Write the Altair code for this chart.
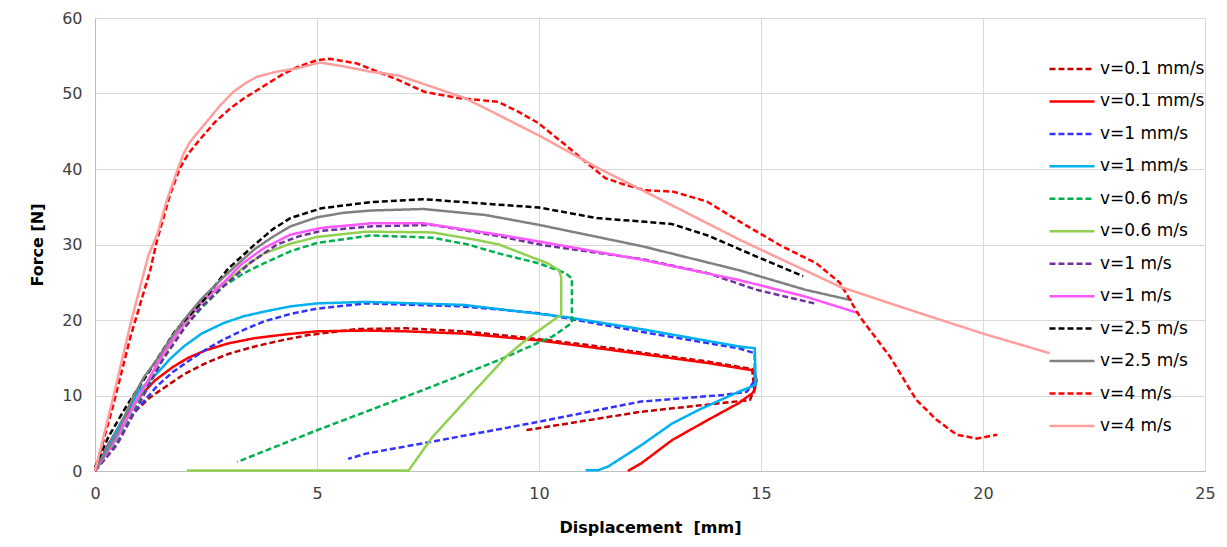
import altair as alt
import pandas as pd

# ---- data ----
labels = ["v=0.1 mm/s", "v=0.1 mm/s ", "v=1 mm/s", "v=1 mm/s ",
          "v=0.6 m/s", "v=0.6 m/s ", "v=1 m/s", "v=1 m/s ",
          "v=2.5 m/s", "v=2.5 m/s ", "v=4 m/s", "v=4 m/s "]
colors = ["#C00000", "#FF0000", "#3333FF", "#00B0F0",
          "#00B050", "#92D050", "#7030A0", "#FF55FF",
          "#000000", "#808080", "#FF0000", "#FF9E9E"]
dashes = [[6, 3], [1, 0], [6, 3], [1, 0], [6, 3], [1, 0],
          [6, 3], [1, 0], [6, 3], [1, 0], [6, 3], [1, 0]]

s1_x = [0, 0.34, 0.64, 0.94, 1.25, 1.6, 2.0, 2.5, 3.0, 3.6, 4.2, 4.8, 5.9, 7.0, 8.3, 9.8, 11.1, 12.4, 13.8, 14.8, 14.85, 14.75, 12.3, 9.7]
s1_y = [0, 3.7, 6.1, 8.1, 9.8, 11.2, 12.8, 14.3, 15.5, 16.5, 17.3, 18.0, 18.8, 18.9, 18.5, 17.6, 16.7, 15.6, 14.5, 13.5, 10.8, 9.4, 7.85, 5.4]

s2_x = [0, 0.3, 0.6, 1.0, 1.35, 1.76, 2.1, 2.5, 3.0, 3.6, 4.3, 5.0, 6.1, 7.0, 8.3, 10.0, 12.3, 13.8, 14.85, 14.9, 14.85, 14.5, 13.8, 13.0, 12.3, 12.0]
s2_y = [0, 3.5, 6.5, 9.8, 12.0, 13.8, 15.0, 16.0, 16.9, 17.6, 18.1, 18.5, 18.6, 18.5, 18.2, 17.3, 15.5, 14.3, 13.3, 12.0, 10.5, 9.0, 6.75, 4.1, 1.0, 0]

s3_x = [0, 0.41, 0.86, 1.39, 1.75, 2.14, 2.5, 2.89, 3.35, 3.8, 4.4, 5.0, 6.1, 8.3, 10.0, 12.3, 14.5, 14.86, 14.86, 14.68, 14.15, 12.3, 9.8, 7.6, 6.1, 5.7]
s3_y = [0, 3.2, 7.6, 11.2, 13.1, 14.7, 16.1, 17.4, 18.7, 19.8, 20.8, 21.5, 22.2, 21.8, 20.9, 18.45, 16.25, 15.6, 12.0, 10.5, 10.07, 9.2, 6.3, 3.9, 2.3, 1.6]

s4_x = [0, 0.5, 1.0, 1.39, 1.7, 2.0, 2.4, 2.9, 3.35, 3.8, 4.4, 5.0, 6.1, 8.3, 10.6, 12.4, 14.5, 14.86, 14.88, 14.5, 13.6, 13.0, 12.3, 11.56, 11.33, 11.05]
s4_y = [0, 5.5, 10.7, 12.9, 14.9, 16.5, 18.2, 19.6, 20.5, 21.1, 21.8, 22.2, 22.4, 22.0, 20.4, 18.7, 16.5, 16.25, 11.4, 10.5, 8.1, 6.3, 3.4, 0.6, 0.1, 0.1]

s5_x = [0, 0.5, 1.0, 1.5, 1.85, 2.4, 2.9, 3.35, 3.8, 4.4, 5.0, 6.2, 7.6, 8.4, 9.1, 10.0, 10.6, 10.74, 10.74, 10.3, 9.1, 7.6, 6.1, 5.0, 3.2]
s5_y = [0, 4.0, 9.5, 14.5, 18.0, 21.6, 24.5, 26.2, 27.5, 29.1, 30.2, 31.2, 30.9, 30.0, 28.8, 27.5, 26.2, 25.5, 19.6, 17.8, 14.7, 11.2, 7.85, 5.4, 1.2]

s6_x = [0, 0.5, 1.0, 1.5, 2.0, 2.4, 2.9, 3.35, 3.8, 4.4, 5.0, 6.1, 7.6, 8.6, 9.1, 9.8, 10.2, 10.45, 10.5, 10.5, 9.8, 9.3, 8.5, 7.6, 7.06, 2.07]
s6_y = [0, 4.5, 10.0, 15.0, 19.3, 22.3, 24.8, 27.0, 28.8, 30.1, 31.0, 31.7, 31.6, 30.6, 30.0, 28.4, 27.5, 26.6, 25.7, 20.7, 17.8, 15.4, 10.3, 4.5, 0.05, 0.05]

s7_x = [0, 0.5, 1.0, 1.5, 2.0, 2.4, 2.9, 3.5, 4.1, 4.6, 5.1, 6.2, 7.6, 9.1, 10.1, 12.3, 13.8, 14.9, 16.2]
s7_y = [0, 3.5, 9.0, 14.5, 18.8, 21.8, 24.5, 27.6, 30.0, 31.1, 31.8, 32.4, 32.6, 31.1, 29.9, 28.1, 26.2, 24.0, 22.2]

s8_x = [0, 0.5, 1.0, 1.5, 2.0, 2.4, 2.9, 3.3, 3.8, 4.4, 5.1, 6.2, 7.4, 9.1, 10.0, 12.3, 14.5, 16.0, 17.2]
s8_y = [0, 4.5, 10.0, 15.2, 19.5, 22.4, 25.0, 27.4, 29.5, 31.3, 32.2, 32.8, 32.8, 31.3, 30.4, 28.0, 25.3, 23.1, 20.9]

s9_x = [0, 0.3, 0.7, 1.2, 1.8, 2.5, 3.0, 3.6, 4.0, 4.4, 5.1, 6.2, 7.4, 8.8, 10.0, 11.3, 12.4, 13.0, 13.8, 14.9, 15.95]
s9_y = [0.5, 4.5, 8.5, 13.0, 18.5, 23.0, 26.8, 30.0, 32.0, 33.5, 34.8, 35.6, 36.0, 35.4, 34.9, 33.5, 33.0, 32.7, 31.2, 28.4, 25.8]

s10_x = [0, 0.5, 0.86, 1.1, 1.39, 1.7, 2.0, 2.4, 2.9, 3.25, 3.6, 4.0, 4.4, 5.0, 5.6, 6.2, 7.4, 8.8, 10.0, 12.3, 14.5, 16.0, 17.05]
s10_y = [0, 5.0, 9.8, 12.4, 14.7, 17.5, 20.0, 22.8, 25.7, 27.6, 29.4, 31.0, 32.4, 33.6, 34.2, 34.5, 34.7, 33.9, 32.6, 29.8, 26.6, 24.0, 22.6]

s11_x = [0, 0.4, 0.8, 1.24, 1.4, 1.69, 1.91, 2.1, 2.36, 2.7, 3.04, 3.34, 3.64, 4.24, 4.6, 4.99, 5.29, 5.89, 6.19, 6.83, 7.43, 8.18, 9.08, 9.53, 9.98, 10.59, 11.04, 11.49, 11.94, 12.39, 13.02, 13.78, 14.53, 15.43, 16.25, 16.78, 17.23, 17.91, 18.5, 18.96, 19.41, 19.86, 20.32]
s11_y = [0, 8.5, 17.8, 26.5, 30.6, 36.6, 40.1, 42.0, 43.9, 46.2, 48.0, 49.3, 50.4, 52.6, 53.6, 54.4, 54.6, 54.0, 53.3, 51.8, 50.2, 49.4, 48.9, 47.6, 46.1, 43.2, 41.0, 38.8, 37.9, 37.2, 37.0, 35.7, 33.0, 29.9, 27.5, 24.9, 20.4, 15.1, 9.4, 6.75, 4.8, 4.3, 4.8]

s12_x = [0, 0.4, 0.8, 1.2, 1.4, 1.6, 1.84, 2.0, 2.14, 2.52, 2.8, 3.11, 3.4, 3.64, 4.09, 4.54, 5.07, 5.59, 6.19, 6.83, 8.33, 9.98, 11.34, 12.39, 14.53, 16.78, 18.58, 20.0, 21.5]
s12_y = [0, 9.5, 19.5, 28.5, 31.3, 35.5, 39.6, 42.1, 43.6, 46.3, 48.3, 50.2, 51.4, 52.2, 52.9, 53.3, 54.1, 53.6, 52.9, 52.4, 49.4, 44.5, 40.1, 37.0, 30.6, 24.4, 20.9, 18.2, 15.6]

xs = [s1_x, s2_x, s3_x, s4_x, s5_x, s6_x, s7_x, s8_x, s9_x, s10_x, s11_x, s12_x]
ys = [s1_y, s2_y, s3_y, s4_y, s5_y, s6_y, s7_y, s8_y, s9_y, s10_y, s11_y, s12_y]

rows = []
for lab, sx, sy in zip(labels, xs, ys):
    for i, (a, b) in enumerate(zip(sx, sy)):
        rows.append({"series": lab, "x": a, "y": b, "idx": i})
df = pd.DataFrame(rows)

font = "DejaVu Sans"

legend = alt.Legend(
    title=None, orient="none", legendX=953, legendY=41,
    symbolType="stroke", symbolSize=2025, symbolStrokeWidth=2.5,
    labelFont=font, labelFontSize=17, labelColor="#000000",
    labelOffset=4, clipHeight=20, rowPadding=12.45, padding=0,
    symbolOpacity=1,
)

chart = alt.Chart(df).mark_line(strokeWidth=2.5, strokeJoin="round").encode(
    x=alt.X("x:Q", scale=alt.Scale(domain=[0, 25], nice=False),
            axis=alt.Axis(title="Displacement\u00a0 [mm]", values=[0, 5, 10, 15, 20, 25],
                          ticks=False, labelPadding=14, titlePadding=18,
                          labelFontSize=16, titleFontSize=16, labelFont=font, titleFont=font,
                          labelColor="#404040", titleColor="#000000", titleFontWeight="bold",
                          domainColor="#bfbfbf", gridColor="#d9d9d9", labelFlush=False)),
    y=alt.Y("y:Q", scale=alt.Scale(domain=[0, 60], nice=False),
            axis=alt.Axis(title="Force [N]", values=[0, 10, 20, 30, 40, 50, 60],
                          ticks=False, labelPadding=13, titlePadding=16,
                          labelFontSize=16, titleFontSize=16, labelFont=font, titleFont=font,
                          labelColor="#404040", titleColor="#000000", titleFontWeight="bold",
                          domainColor="#bfbfbf", gridColor="#d9d9d9", labelFlush=False)),
    color=alt.Color("series:N", scale=alt.Scale(domain=labels, range=colors), legend=legend),
    strokeDash=alt.StrokeDash("series:N", scale=alt.Scale(domain=labels, range=dashes), legend=legend),
    order="idx:Q",
).properties(
    width=1110, height=453,
    padding={"left": 87, "top": 10, "right": 14, "bottom": 68},
    autosize=alt.AutoSizeParams(type="none"),
).configure_view(stroke="#d9d9d9", strokeWidth=1).configure(background="white")

chart.save("out.html", embed_options={"renderer": "svg", "actions": False})
